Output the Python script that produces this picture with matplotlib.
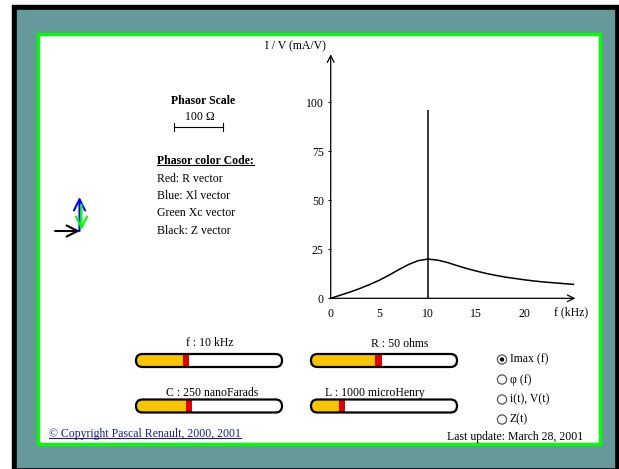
import numpy as np
import matplotlib
matplotlib.use("Agg")
import matplotlib.pyplot as plt
from matplotlib.patches import Rectangle, FancyBboxPatch, Circle

# ── data ──────────────────────────────────────────────────────────────────────
F_KHZ = [0, 1, 2, 3, 4, 5, 6, 7, 8, 9, 10, 11, 12, 13, 14, 15, 16, 17, 18,
         19, 20, 21, 22, 23, 24, 25]
I_MAX = [0.0, 1.6, 3.2, 5.0, 7.0, 9.2, 11.8, 14.6, 17.2, 19.2, 20.0, 19.5,
         18.3, 16.7, 15.2, 13.9, 12.7, 11.7, 10.8, 10.1, 9.4, 8.8, 8.3, 7.9,
         7.5, 7.1]
CURSOR_F = 10
CURSOR_TOP = 96
X_TICKS = [0, 5, 10, 15, 20]
Y_TICKS = [0, 25, 50, 75, 100]

SLIDER_LABELS = ["f : 10 kHz", "R : 50 ohms", "C : 250 nanoFarads", "L : 1000 microHenry"]
SLIDER_FRAC = [0.34, 0.46, 0.36, 0.21]

RADIO_LABELS = ["Imax (f)", "φ (f)", "i(t), V(t)", "Z(t)"]
RADIO_SELECTED = 0

COLOR_CODE = ["Red: R vector", "Blue: Xl vector", "Green Xc vector", "Black: Z vector"]

# ── style ─────────────────────────────────────────────────────────────────────
SERIF = ["Liberation Serif", "DejaVu Serif"]
plt.rcParams["font.family"] = SERIF
TEAL = "#669999"
GREEN = "#00ff00"
GOLD = "#f7c600"
RED = "#e00000"
FS = 8.5

W, H = 619, 469
fig = plt.figure(figsize=(W / 100, H / 100), dpi=100)

# pixel-space background axes
bg = fig.add_axes([0, 0, 1, 1])
bg.set_xlim(0, W)
bg.set_ylim(H, 0)
bg.axis("off")

bg.add_patch(Rectangle((12, 5), W - 12, H - 5, color="black", zorder=0))
bg.add_patch(Rectangle((17, 10), 614 - 17, 467 - 10, color=TEAL, zorder=0.5))
bg.add_patch(Rectangle((37.5, 34.5), 599.5 - 37.5, 444.5 - 34.5, facecolor="white",
                       edgecolor=GREEN, linewidth=2.4, zorder=0.8))

# ── chart axes ────────────────────────────────────────────────────────────────
px_x, px_y = 9.71, 1.96
x0, y0 = 330.7, 298.3
xmax, ymax = 25.2, 124.5
ax = fig.add_axes([x0 / W, (H - y0) / H, xmax * px_x / W, ymax * px_y / H])
ax.set_xlim(0, xmax)
ax.set_ylim(0, ymax)
ax.patch.set_alpha(0)
for s in ax.spines.values():
    s.set_visible(False)

ax.plot(F_KHZ, I_MAX, color="black", linewidth=1.1, clip_on=False)
ax.vlines(CURSOR_F, 0, CURSOR_TOP, color="black", linewidth=1.1)

arrow = dict(arrowstyle="->", color="black", lw=0.9, shrinkA=0, shrinkB=0,
             mutation_scale=12)
ax.annotate("", xy=(1, 0), xytext=(0, 0), xycoords="axes fraction",
            arrowprops=arrow)
ax.annotate("", xy=(0, 1), xytext=(0, 0), xycoords="axes fraction",
            arrowprops=arrow)

ax.set_xticks(X_TICKS)
ax.set_xticklabels([str(t) for t in X_TICKS])
ax.set_yticks(Y_TICKS)
ax.set_yticklabels([str(t) for t in Y_TICKS])
ax.tick_params(axis="x", length=0, pad=7, labelsize=FS)
ax.tick_params(axis="y", length=2, width=0.8, pad=3, labelsize=FS)

bg.text(571, 312, "f (kHz)", fontsize=FS, ha="center", va="center")
bg.text(326, 46, "I / V (mA/V)", fontsize=FS, ha="right", va="center")

# ── phasor scale and colour code ──────────────────────────────────────────────
bg.text(203, 101, "Phasor Scale", fontsize=FS, fontweight="bold",
        ha="center", va="center")
bg.text(200, 117, "100 Ω", fontsize=FS, ha="center", va="center")
bg.plot([174, 223], [127, 127], color="black", lw=0.8)
bg.plot([174, 174], [123, 131], color="black", lw=0.8)
bg.plot([223, 223], [123, 131], color="black", lw=0.8)

under = []
t = bg.text(157, 161, "Phasor color Code:", fontsize=FS, fontweight="bold",
            ha="left", va="center")
under.append((t, "black"))
for i, line in enumerate(COLOR_CODE):
    bg.text(157, 178.5 + i * 17.5, line, fontsize=FS, ha="left", va="center")

# phasor vectors
def vec(x1, y1, x2, y2, color):
    bg.annotate("", xy=(x2, y2), xytext=(x1, y1),
                arrowprops=dict(arrowstyle="->", color=color, lw=1.5,
                                shrinkA=0, shrinkB=0, mutation_scale=20))

vec(55, 231, 80, 231, "black")
vec(79.5, 231, 79.5, 197, "blue")
vec(81.5, 205, 81.5, 230, GREEN)

# ── sliders ───────────────────────────────────────────────────────────────────
slider_box = [(136, 354), (311, 354), (136, 399.5), (311, 399.5)]
label_xy = [(210, 343), (400, 344), (212, 393), (375, 393)]
sw, sh = 146, 13
for (sx, sy), (lx, ly), lab, frac in zip(slider_box, label_xy, SLIDER_LABELS, SLIDER_FRAC):
    pill = FancyBboxPatch((sx, sy), sw, sh,
                          boxstyle=f"round,pad=0,rounding_size={sh / 2}",
                          facecolor="white", edgecolor="none", zorder=2)
    bg.add_patch(pill)
    mx = sx + frac * sw
    fill = Rectangle((sx, sy), mx - 3 - sx, sh, facecolor=GOLD, edgecolor="none", zorder=3)
    bg.add_patch(fill)
    fill.set_clip_path(pill)
    bg.add_patch(Rectangle((mx - 3, sy), 6.5, sh, facecolor=RED, edgecolor="none", zorder=4))
    bg.add_patch(FancyBboxPatch((sx, sy), sw, sh,
                                boxstyle=f"round,pad=0,rounding_size={sh / 2}",
                                facecolor="none", edgecolor="black", lw=1.6, zorder=5))
    bg.text(lx, ly, lab, fontsize=FS, ha="center", va="center")

# ── radio buttons ─────────────────────────────────────────────────────────────
for i, lab in enumerate(RADIO_LABELS):
    cy = 359.5 + i * 20
    bg.add_patch(Circle((502, cy), 4.6, facecolor="white", edgecolor="#555555",
                        lw=0.9, zorder=3))
    if i == RADIO_SELECTED:
        bg.add_patch(Circle((502, cy), 2.2, facecolor="black", zorder=4))
    bg.text(510, cy, lab, fontsize=FS, ha="left", va="center")

# ── footer ────────────────────────────────────────────────────────────────────
bg.text(515, 437, "Last update: March 28, 2001", fontsize=FS, ha="center", va="center")
t = bg.text(49, 434, "© Copyright Pascal Renault, 2000, 2001", fontsize=FS,
            color="#1c1c8c", ha="left", va="center")
under.append((t, "#1c1c8c"))

# underline texts
fig.canvas.draw()
inv = bg.transData.inverted()
for t, c in under:
    bb = t.get_window_extent()
    (ax0, ay0), (ax1, ay1) = inv.transform([(bb.x0, bb.y0), (bb.x1, bb.y1)])
    bg.plot([ax0, ax1], [ay0 - 1.5, ay0 - 1.5], color=c, lw=0.8)

fig.savefig("out.png", dpi=100)
